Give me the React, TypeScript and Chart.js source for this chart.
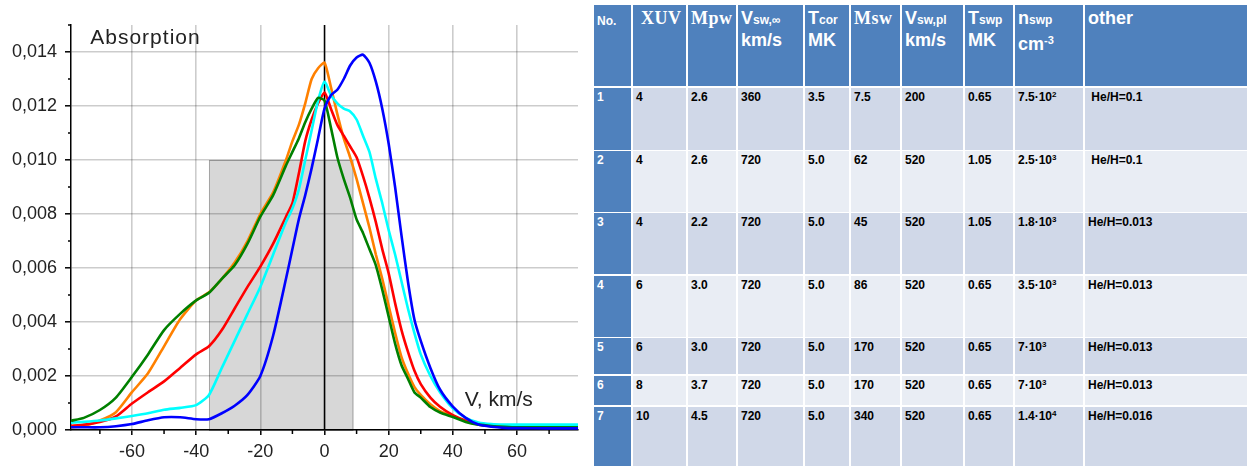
import React, { useEffect, useRef } from "react";
import { Chart, registerables } from "chart.js";

Chart.register(...registerables);

// ---------- chart data ----------
const velocity = [-79, -75, -70, -65, -60, -55, -50, -45, -40, -36, -32, -28, -24, -20, -16, -12, -10, -8, -6, -4, -2, 0, 2, 4, 6, 8, 10, 12, 14, 16, 18, 20, 22, 24, 26, 28, 30, 33, 36, 40, 44, 48, 52, 56, 60, 70, 79];

const absBlue = [0.0001, 0.0001, 0.0001, 0.00014, 0.00022, 0.00036, 0.00047, 0.00047, 0.0004, 0.0004, 0.00062, 0.0009, 0.0013, 0.002, 0.0035, 0.0056, 0.0067, 0.0078, 0.0087, 0.0097, 0.0108, 0.0119, 0.0124, 0.0126, 0.013, 0.0135, 0.0138, 0.0139, 0.0136, 0.0129, 0.0119, 0.0106, 0.009, 0.0072, 0.0055, 0.0041, 0.0033, 0.0023, 0.0015, 0.00087, 0.00045, 0.0002, 0.00012, 0.00008, 0.00007, 0.00006, 0.00006];
const absCyan = [0.00027, 0.0003, 0.00035, 0.00043, 0.00052, 0.00062, 0.00075, 0.00082, 0.00092, 0.0013, 0.0023, 0.0033, 0.0043, 0.0053, 0.0065, 0.0077, 0.0082, 0.0089, 0.01, 0.0111, 0.0122, 0.0129, 0.0124, 0.0121, 0.0119, 0.0118, 0.0115, 0.0109, 0.0103, 0.0093, 0.0084, 0.0074, 0.0065, 0.0055, 0.0045, 0.0036, 0.0028, 0.002, 0.0014, 0.0008, 0.00045, 0.00028, 0.00022, 0.0002, 0.0002, 0.0002, 0.0002];
const absRed = [0.00015, 0.0002, 0.0003, 0.0005, 0.00098, 0.0014, 0.0018, 0.0023, 0.0028, 0.0031, 0.0037, 0.0045, 0.0053, 0.00605, 0.0069, 0.0079, 0.0084, 0.0095, 0.0107, 0.0115, 0.0121, 0.0125, 0.0119, 0.0113, 0.0109, 0.0105, 0.0101, 0.0094, 0.0086, 0.0077, 0.0067, 0.0058, 0.0047, 0.0037, 0.0029, 0.0022, 0.0017, 0.0012, 0.00086, 0.00055, 0.00035, 0.00022, 0.00015, 0.00012, 0.0001, 0.0001, 0.0001];
const absOrange = [0.0001, 0.00015, 0.00035, 0.00066, 0.0014, 0.0021, 0.0031, 0.0041, 0.0048, 0.0051, 0.0056, 0.0062, 0.007, 0.008, 0.0088, 0.01, 0.0107, 0.0113, 0.0121, 0.013, 0.0134, 0.0136, 0.0127, 0.0117, 0.0108, 0.0101, 0.0093, 0.0084, 0.0075, 0.0065, 0.0056, 0.0046, 0.0036, 0.0027, 0.0021, 0.0016, 0.0013, 0.00095, 0.0007, 0.00052, 0.00032, 0.0002, 0.00015, 0.00012, 0.0001, 0.0001, 0.0001];
const absGreen = [0.00034, 0.00045, 0.00074, 0.0012, 0.00197, 0.0028, 0.0037, 0.0043, 0.0048, 0.00508, 0.0056, 0.0061, 0.0069, 0.0079, 0.0087, 0.0098, 0.0103, 0.0108, 0.0114, 0.0119, 0.0123, 0.0122, 0.0112, 0.0101, 0.0093, 0.0086, 0.0078, 0.0073, 0.0067, 0.0061, 0.0052, 0.0042, 0.0032, 0.0024, 0.0019, 0.0014, 0.0012, 0.00085, 0.00065, 0.00048, 0.0003, 0.0002, 0.00015, 0.00012, 0.0001, 0.0001, 0.0001];

const shadeFrom = -36;
const shadeTo = 9;
const shadeTop = 0.01;

const xMinorTicks = [-70, -50, -30, -10, 10, 30, 50, 70];
const yMinorTicks = [0.001, 0.003, 0.005, 0.007, 0.009, 0.011, 0.013, 0.015];

// ---------- table data ----------
const rowNo = ["1", "2", "3", "4", "5", "6", "7"];
const colXUV = ["4", "4", "4", "6", "6", "8", "10"];
const colMpw = ["2.6", "2.6", "2.2", "3.0", "3.0", "3.7", "4.5"];
const colVswInf = ["360", "720", "720", "720", "720", "720", "720"];
const colTcor = ["3.5", "5.0", "5.0", "5.0", "5.0", "5.0", "5.0"];
const colMsw = ["7.5", "62", "45", "86", "170", "170", "340"];
const colVswPl = ["200", "520", "520", "520", "520", "520", "520"];
const colTswp = ["0.65", "1.05", "1.05", "0.65", "0.65", "0.65", "0.65"];
const nswpMant = ["7.5", "2.5", "1.8", "3.5", "7", "7", "1.4"];
const nswpExp = ["2", "3", "3", "3", "3", "3", "4"];
const colOther = [" He/H=0.1", " He/H=0.1", "He/H=0.013", "He/H=0.013", "He/H=0.013", "He/H=0.013", "He/H=0.016"];

const colLeft = [594, 633, 688, 738, 805, 851, 902, 965, 1015, 1085];
const colRight = [631, 686, 736, 803, 849, 900, 963, 1013, 1083, 1247];
const rowTop = [88, 151, 213, 276, 338, 376, 407];
const rowBottom = [150, 212, 274, 337, 374, 405, 470];

const SANS = '"Liberation Sans", Arial, sans-serif';
const SERIF = '"Liberation Serif", "Times New Roman", serif';

const decorPlugin = {
  id: "decor",
  beforeDraw(chart: any) {
    const { ctx, scales } = chart;
    const x = scales.x;
    const y = scales.y;
    const l = x.getPixelForValue(shadeFrom);
    const r = x.getPixelForValue(shadeTo);
    const t = y.getPixelForValue(shadeTop);
    const b = y.getPixelForValue(0);
    ctx.save();
    ctx.fillStyle = "#d7d7d7";
    ctx.fillRect(l, t, r - l, b - t);
    ctx.strokeStyle = "#a3a3a3";
    ctx.lineWidth = 1;
    ctx.strokeRect(l + 0.5, t + 0.5, r - l - 1, b - t);
    ctx.restore();
  },
  beforeDatasetsDraw(chart: any) {
    const { ctx, scales, chartArea } = chart;
    const px = scales.x.getPixelForValue(0);
    ctx.save();
    ctx.strokeStyle = "#000";
    ctx.lineWidth = 1.5;
    ctx.beginPath();
    ctx.moveTo(px, chartArea.top);
    ctx.lineTo(px, chartArea.bottom);
    ctx.stroke();
    ctx.restore();
  },
  afterDraw(chart: any) {
    const { ctx, scales, chartArea } = chart;
    const x = scales.x;
    const y = scales.y;
    ctx.save();
    ctx.strokeStyle = "#000";
    ctx.lineWidth = 1.5;
    ctx.beginPath();
    for (const v of yMinorTicks) {
      const p = y.getPixelForValue(v);
      ctx.moveTo(chartArea.left - 3, p);
      ctx.lineTo(chartArea.left, p);
    }
    for (const v of xMinorTicks) {
      const p = x.getPixelForValue(v);
      ctx.moveTo(p, chartArea.bottom);
      ctx.lineTo(p, chartArea.bottom + 4);
    }
    ctx.stroke();
    ctx.fillStyle = "#222";
    ctx.textBaseline = "alphabetic";
    ctx.textAlign = "left";
    ctx.font = `21px ${SANS}`;
    (ctx as any).letterSpacing = "1px";
    ctx.fillText("Absorption", x.getPixelForValue(-73), y.getPixelForValue(0.0143));
    (ctx as any).letterSpacing = "0px";
    ctx.fillText("V, km/s", x.getPixelForValue(43.7), y.getPixelForValue(0.00089));
    ctx.restore();
  },
};

function toPoints(vals: number[]) {
  return velocity.map((v, i) => ({ x: v, y: vals[i] }));
}

function AbsorptionChart() {
  const ref = useRef<HTMLCanvasElement | null>(null);
  useEffect(() => {
    if (!ref.current) return;
    const isMajorX = (c: any) => c.tick && Math.round(c.tick.value) % 20 === 0;
    const isMajorY = (c: any) => c.tick && Math.round(c.tick.value * 1000) % 2 === 0;
    const mk = (label: string, vals: number[], color: string) => ({
      label,
      data: toPoints(vals),
      borderColor: color,
      backgroundColor: color,
      borderWidth: 2.6,
      pointRadius: 0,
      tension: 0.2,
      fill: false,
      borderJoinStyle: "round" as const,
    });
    const chart = new Chart(ref.current, {
      type: "line",
      data: {
        datasets: [
          mk("1", absBlue, "#0000ff"),
          mk("2", absGreen, "#008000"),
          mk("3", absCyan, "#00ffff"),
          mk("4", absRed, "#ff0000"),
          mk("5", absOrange, "#ff8000"),
        ],
      },
      options: {
        animation: false,
        responsive: false,
        layout: { padding: { top: 25, right: 12, left: 0, bottom: 0 } },
        plugins: { legend: { display: false }, tooltip: { enabled: false } },
        scales: {
          x: {
            type: "linear",
            min: -79,
            max: 79,
            afterFit: (s: any) => {
              s.height = 36;
            },
            border: { color: "#000", width: 1.5 },
            grid: {
              color: (c: any) => (isMajorX(c) ? "rgba(0,0,0,0.2)" : "rgba(0,0,0,0)"),
              tickColor: (c: any) => (isMajorX(c) ? "#000" : "rgba(0,0,0,0)"),
              lineWidth: 1.6,
              tickWidth: 1.5,
              tickLength: 5,
            },
            ticks: {
              stepSize: 10,
              autoSkip: false,
              maxRotation: 0,
              includeBounds: false,
              padding: 6,
              color: "#222",
              font: { size: 18, family: SANS },
              callback: (v: any) => (Math.round(v) % 20 === 0 ? String(Math.round(v)) : ""),
            },
          },
          y: {
            type: "linear",
            min: 0,
            max: 0.015,
            afterFit: (s: any) => {
              s.width = 71;
            },
            border: { color: "#000", width: 1.5 },
            grid: {
              color: (c: any) => (isMajorY(c) ? "rgba(0,0,0,0.2)" : "rgba(0,0,0,0)"),
              tickColor: (c: any) => (isMajorY(c) ? "#000" : "rgba(0,0,0,0)"),
              lineWidth: 1.6,
              tickWidth: 1.5,
              tickLength: 6,
            },
            ticks: {
              stepSize: 0.001,
              autoSkip: false,
              padding: 8,
              color: "#222",
              font: { size: 18, family: SANS },
              callback: (v: any) => {
                const k = Math.round(v * 1000);
                return k % 2 === 0 ? (k / 1000).toFixed(3).replace(".", ",") : "";
              },
            },
          },
        },
      },
      plugins: [decorPlugin],
    });
    return () => chart.destroy();
  }, []);
  return <canvas ref={ref} width={590} height={466} style={{ position: "absolute", left: 0, top: 0 }} />;
}

const sub: React.CSSProperties = { fontSize: 12 };

function headerContent(i: number) {
  const serifStyle: React.CSSProperties = { fontFamily: SERIF, fontSize: 18, letterSpacing: 0.5 };
  switch (i) {
    case 0:
      return <div style={{ fontSize: 12, paddingTop: 3 }}>No.</div>;
    case 1:
      return <div style={{ ...serifStyle, paddingLeft: 5 }}>XUV</div>;
    case 2:
      return <div style={serifStyle}>Mpw</div>;
    case 3:
      return (
        <div>
          V<span style={sub}>sw,∞</span>
          <br />
          km/s
        </div>
      );
    case 4:
      return (
        <div>
          T<span style={sub}>cor</span>
          <br />
          MK
        </div>
      );
    case 5:
      return <div style={serifStyle}>Msw</div>;
    case 6:
      return (
        <div>
          V<span style={sub}>sw,pl</span>
          <br />
          km/s
        </div>
      );
    case 7:
      return (
        <div>
          T<span style={sub}>swp</span>
          <br />
          MK
        </div>
      );
    case 8:
      return (
        <div>
          n<span style={sub}>swp</span>
          <br />
          cm<sup style={{ fontSize: 11, verticalAlign: 6 }}>-3</sup>
        </div>
      );
    default:
      return <div>other</div>;
  }
}

function bodyContent(r: number, c: number) {
  const cols = [rowNo, colXUV, colMpw, colVswInf, colTcor, colMsw, colVswPl, colTswp];
  if (c < 8) return cols[c][r];
  if (c === 8)
    return (
      <>
        {nswpMant[r]}·10<sup style={{ fontSize: 8, verticalAlign: 4, lineHeight: 0 }}>{nswpExp[r]}</sup>
      </>
    );
  return colOther[r];
}

function ParamTable() {
  const cells: React.ReactNode[] = [];
  const base: React.CSSProperties = {
    position: "absolute",
    boxSizing: "border-box",
    fontFamily: SANS,
    fontWeight: 700,
    overflow: "hidden",
    whiteSpace: "pre",
  };
  for (let c = 0; c < colLeft.length; c++) {
    cells.push(
      <div
        key={`h${c}`}
        style={{
          ...base,
          left: colLeft[c],
          top: 5,
          width: colRight[c] - colLeft[c],
          height: 81,
          background: "#4f81bd",
          color: "#fff",
          fontSize: 18,
          lineHeight: "20px",
          padding: "3px 0 0 3px",
        }}
      >
        {headerContent(c)}
      </div>
    );
  }
  for (let r = 0; r < rowNo.length; r++) {
    for (let c = 0; c < colLeft.length; c++) {
      cells.push(
        <div
          key={`b${r}_${c}`}
          style={{
            ...base,
            left: colLeft[c],
            top: rowTop[r],
            width: colRight[c] - colLeft[c],
            height: rowBottom[r] - rowTop[r],
            background: c === 0 ? "#4f81bd" : r % 2 === 0 ? "#d0d8e8" : "#e9edf4",
            color: c === 0 ? "#fff" : "#000",
            fontSize: 12,
            lineHeight: "14px",
            padding: "2px 0 0 3px",
          }}
        >
          {bodyContent(r, c)}
        </div>
      );
    }
  }
  return <>{cells}</>;
}

export default function App() {
  return (
    <div style={{ position: "fixed", left: 0, top: 0, width: 1252, height: 466, background: "#fff", overflow: "hidden" }}>
      <AbsorptionChart />
      <ParamTable />
    </div>
  );
}
